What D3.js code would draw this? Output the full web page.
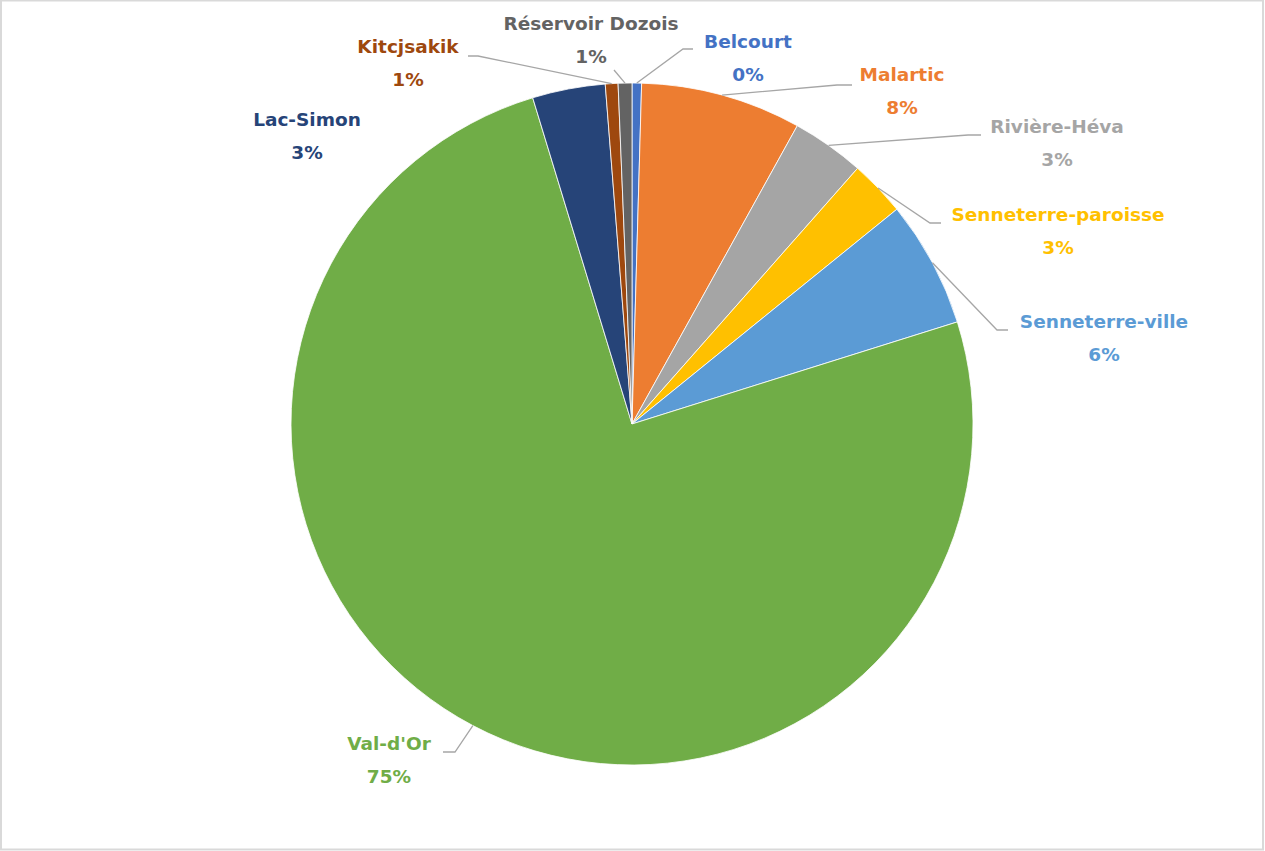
<!DOCTYPE html>
<html>
<head>
<meta charset="utf-8">
<script src="https://cdn.jsdelivr.net/npm/d3@7"></script>
<style>
  body { margin: 0; background: #fff; }
  svg { display: block; }
  .lbl { font-family: "DejaVu Sans", sans-serif; font-weight: bold; font-size: 18.5px; }
</style>
</head>
<body>
<div id="chart"></div>
<script>
// values (share of total, %)
var names = ['Belcourt', 'Malartic', 'Rivière-Héva', 'Senneterre-paroisse', 'Senneterre-ville',
             "Val-d'Or", 'Lac-Simon', 'Kitcjsakik', 'Réservoir Dozois'];
var values = [0.45, 7.6, 3.45, 2.65, 6.0, 75.1, 3.45, 0.6, 0.65];
var colors = ['#4472C4', '#ED7D31', '#A5A5A5', '#FFC000', '#5B9BD5',
              '#70AD47', '#264478', '#9E480E', '#636363'];

const width = 1265, height = 851;
const cx = 632, cy = 424, radius = 341;

// where each data label sits, and the bend of its leader line
var labelPos = {
    'Belcourt':            { x: 748,  y: 42,  bend: [683, 49],  end: [693, 49] },
    'Malartic':            { x: 902,  y: 75,  bend: [837, 85],  end: [852, 85] },
    'Rivière-Héva':        { x: 1057, y: 127, bend: [968, 135], end: [981, 135] },
    'Senneterre-paroisse': { x: 1058, y: 215, bend: [930, 223], end: [941, 223] },
    'Senneterre-ville':    { x: 1104, y: 322, bend: [997, 330], end: [1008, 330] },
    "Val-d'Or":            { x: 389,  y: 744, bend: [455, 752], end: [443, 752] },
    'Lac-Simon':           { x: 307,  y: 120, bend: null, end: null },
    'Kitcjsakik':          { x: 408,  y: 47,  bend: [478, 56],  end: [468, 56] },
    'Réservoir Dozois':    { x: 591,  y: 24,  bend: [614, 70],  end: [614, 70] }
};

var svg = d3.select('#chart').append('svg')
    .attr('width', width)
    .attr('height', height);

svg.append('rect')
    .attr('x', 1).attr('y', 0.5)
    .attr('width', width - 3).attr('height', height - 2)
    .attr('fill', '#fff')
    .attr('stroke', '#d9d9d9')
    .attr('stroke-width', 2);

var rows = names.map((n, i) => ({ name: n, value: values[i], color: colors[i] }));
var total = d3.sum(values);

var pie = d3.pie().sort(null).value(d => d.value);
var arcs = pie(rows);

var arc = d3.arc().innerRadius(0).outerRadius(radius);
var rim = d3.arc().innerRadius(radius).outerRadius(radius);

var g = svg.append('g').attr('transform', `translate(${cx},${cy})`);

g.selectAll('path.slice')
    .data(arcs)
    .enter()
    .append('path')
        .attr('class', 'slice')
        .attr('d', arc)
        .attr('fill', d => d.data.color)
        .attr('stroke', '#fff')
        .attr('stroke-width', 0.8);

// leader lines
var line = d3.line();
g.selectAll('path.leader')
    .data(arcs.filter(d => labelPos[d.data.name].end))
    .enter()
    .append('path')
        .attr('class', 'leader')
        .attr('d', function (d) {
            var p = labelPos[d.data.name];
            return line([rim.centroid(d),
                         [p.bend[0] - cx, p.bend[1] - cy],
                         [p.end[0] - cx, p.end[1] - cy]]);
        })
        .attr('fill', 'none')
        .attr('stroke', '#a6a6a6')
        .attr('stroke-width', 1.3);

// data labels: name + rounded percentage
var labels = svg.selectAll('text.lbl')
    .data(arcs)
    .enter()
    .append('text')
        .attr('class', 'lbl')
        .attr('text-anchor', 'middle')
        .attr('fill', d => d.data.color)
        .attr('x', d => labelPos[d.data.name].x)
        .attr('y', d => labelPos[d.data.name].y);

labels.append('tspan')
    .attr('x', d => labelPos[d.data.name].x)
    .attr('dy', '0.35em')
    .text(d => d.data.name);

labels.append('tspan')
    .attr('x', d => labelPos[d.data.name].x)
    .attr('dy', 33)
    .text(d => Math.round(d.data.value / total * 100) + '%');
</script>
</body>
</html>
